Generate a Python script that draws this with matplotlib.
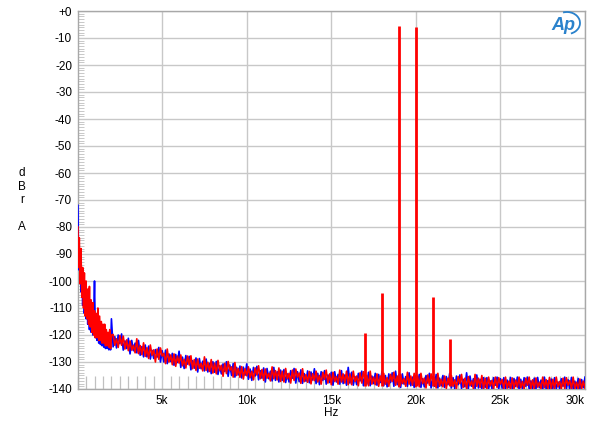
import numpy as np
import matplotlib
matplotlib.use("Agg")
import matplotlib.pyplot as plt
from matplotlib.patches import Arc
from matplotlib.ticker import MultipleLocator

plt.rcParams['font.family'] = ['Liberation Sans', 'DejaVu Sans']

# ---------------- data ----------------
# low-frequency region (Hz), 50 Hz bins
f_low = [20] + list(range(50, 2001, 50))
red_low = [-80, -95, -84, -101, -88, -106, -95, -110, -97, -113,
           -100, -114, -103, -116, -102, -117, -107, -119, -108, -120,
           -111, -121, -112, -121, -110, -122, -113, -122, -115, -123,
           -116, -123, -116, -124, -118, -124, -119, -124.5, -118, -125,
           -120]
blue_low = [-72, -90, -96, -92, -104, -97, -109, -101, -112, -104,
            -114, -106, -116, -108, -118, -110, -119, -112, -120, -114,
            -100, -121, -115, -122, -116, -123, -117, -123.5, -118, -124,
            -119, -124.5, -120, -125, -121, -125, -121, -125.5, -122, -125.5,
            -114]

# high-frequency region (Hz), 100 Hz bins, 2100 .. 30000
f_high = list(range(2100, 30001, 100))
red_high = [
    # 2.1k - 4k
    -119.8, -123.8, -121.4, -124.6, -120.2, -123.8, -120.4, -125.2, -121.8, -125.8,
    -122.2, -125.6, -123.8, -126.6, -121.4, -126.9, -123.9, -127.3, -122.9, -127.9,
    # 4.1k - 6k
    -124.7, -128.7, -123.7, -127.5, -125.5, -130.0, -125.2, -129.0, -124.8, -127.8,
    -126.8, -130.6, -125.2, -130.0, -127.4, -131.0, -127.0, -131.6, -127.8, -130.4,
    # 6.1k - 8k
    -127.4, -131.4, -129.0, -132.2, -127.8, -131.1, -127.7, -132.5, -129.1, -133.1,
    -128.9, -132.3, -130.5, -133.3, -128.1, -133.1, -130.1, -133.5, -129.1, -134.1,
    # 8.1k - 10k
    -130.4, -134.4, -129.4, -133.2, -131.2, -135.3, -130.5, -134.3, -129.8, -133.1,
    -131.8, -135.6, -130.2, -135.0, -132.4, -135.7, -131.7, -136.3, -132.5, -135.1,
    # 10.1k - 12k
    -131.8, -135.8, -133.4, -136.6, -132.2, -134.8, -131.4, -136.2, -132.8, -136.8,
    -132.6, -136.0, -134.2, -137.0, -131.8, -136.2, -133.2, -136.6, -132.2, -137.2,
    # 12.1k - 14k
    -133.4, -137.4, -132.4, -136.2, -134.2, -137.8, -133.0, -136.8, -132.6, -135.6,
    -134.1, -137.9, -132.5, -137.3, -134.7, -137.5, -133.5, -138.1, -134.3, -136.9,
    # 14.1k - 16k
    -133.4, -137.4, -135.0, -138.2, -133.8, -136.4, -133.0, -137.8, -134.4, -138.4,
    -133.8, -137.2, -135.4, -138.2, -133.0, -137.4, -134.4, -137.8, -133.4, -138.4,
    # 16.1k - 18k
    -134.4, -138.4, -133.4, -137.2, -135.2, -138.8, -134.0, -137.8, -133.6, -136.6,
    -135.0, -138.8, -133.4, -138.2, -135.6, -138.4, -134.4, -139.0, -135.2, -137.8,
    # 18.1k - 20k
    -134.2, -138.2, -135.8, -139.0, -134.6, -137.2, -133.8, -138.6, -135.2, -139.2,
    -134.6, -138.0, -136.2, -139.0, -133.8, -138.2, -135.2, -138.6, -134.2, -139.2,
    # 20.1k - 22k
    -135.2, -139.2, -134.2, -138.0, -136.0, -139.6, -134.8, -138.6, -134.4, -137.4,
    -135.8, -139.6, -134.2, -139.0, -136.4, -139.2, -135.2, -139.8, -136.0, -138.6,
    # 22.1k - 24k
    -135.0, -139.0, -136.6, -139.8, -135.4, -138.0, -134.6, -139.4, -136.0, -139.9,
    -135.4, -138.8, -137.0, -139.8, -134.6, -139.0, -136.0, -139.4, -135.0, -139.9,
    # 24.1k - 26k
    -136.0, -139.9, -135.6, -138.8, -136.8, -139.9, -135.6, -139.4, -135.8, -138.2,
    -136.5, -139.9, -135.6, -139.7, -137.1, -139.9, -135.9, -139.9, -136.7, -139.3,
    # 26.1k - 28k
    -135.6, -139.6, -137.2, -139.9, -136.0, -138.6, -135.6, -139.9, -136.6, -139.9,
    -135.9, -139.3, -137.5, -139.9, -135.6, -139.5, -136.5, -139.9, -135.7, -139.9,
    # 28.1k - 30k
    -136.4, -139.9, -135.6, -139.2, -137.2, -139.9, -136.0, -139.8, -135.8, -138.6,
    -136.9, -139.9, -135.6, -139.9, -137.5, -139.9, -136.3, -139.9, -137.1, -139.7,
]
blue_high = [
    # 2.1k - 4k
    -124.4, -120.6, -124.8, -120.0, -123.2, -119.6, -125.6, -122.2, -125.0, -121.2,
    -127.0, -122.0, -125.8, -123.0, -126.6, -122.0, -127.5, -124.3, -128.1, -123.7,
    # 4.1k - 6k
    -128.1, -124.1, -128.9, -125.7, -128.7, -125.4, -128.2, -124.6, -130.0, -125.8,
    -130.0, -125.6, -130.6, -127.0, -129.8, -126.8, -131.2, -127.2, -130.2, -126.0,
    # 6.1k - 8k
    -132.0, -128.2, -132.4, -127.6, -130.8, -127.9, -132.9, -129.5, -132.3, -128.5,
    -133.7, -128.7, -132.5, -129.7, -133.3, -128.9, -133.7, -130.5, -134.3, -129.9,
    # 8.1k - 10k
    -133.8, -129.8, -134.6, -131.4, -134.4, -130.7, -133.5, -129.9, -135.3, -131.1,
    -135.0, -130.6, -135.6, -132.0, -134.8, -131.5, -135.9, -131.9, -134.9, -130.7,
    # 10.1k - 12k
    -136.4, -132.6, -136.8, -132.0, -135.2, -131.6, -136.6, -133.2, -136.0, -132.2,
    -137.4, -132.4, -136.2, -133.4, -137.0, -132.0, -136.8, -133.6, -137.4, -133.0,
    # 12.1k - 14k
    -136.8, -132.8, -137.6, -134.4, -137.4, -133.2, -136.0, -132.4, -137.8, -133.6,
    -137.3, -132.9, -137.9, -134.3, -137.1, -133.3, -137.7, -133.7, -136.7, -132.5,
    # 14.1k - 16k
    -138.0, -134.2, -138.4, -133.6, -136.8, -133.2, -138.2, -134.8, -137.6, -133.8,
    -138.6, -133.6, -137.4, -134.6, -138.2, -133.2, -138.0, -134.8, -138.6, -132.0,
    # 16.1k - 18k
    -137.8, -133.8, -138.6, -135.4, -138.4, -134.2, -137.0, -133.4, -138.8, -134.6,
    -138.2, -133.8, -138.8, -135.2, -138.0, -134.2, -138.6, -134.6, -137.6, -133.4,
    # 18.1k - 20k
    -138.8, -135.0, -139.2, -134.4, -137.6, -134.0, -139.0, -133.4, -138.4, -134.6,
    -139.4, -134.4, -138.2, -135.4, -139.0, -134.0, -138.8, -135.6, -139.4, -135.0,
    # 20.1k - 22k
    -138.6, -134.6, -139.4, -136.2, -139.2, -135.0, -137.8, -134.2, -139.6, -135.4,
    -139.0, -134.6, -139.6, -136.0, -138.8, -135.0, -139.4, -135.4, -138.4, -134.2,
    # 22.1k - 24k
    -139.6, -135.8, -139.9, -135.2, -138.4, -134.8, -139.8, -136.4, -139.2, -134.0,
    -139.9, -135.2, -139.0, -136.2, -139.8, -134.8, -139.6, -136.4, -139.9, -135.8,
    # 24.1k - 26k
    -139.4, -135.8, -139.9, -137.0, -139.9, -135.8, -138.6, -135.6, -139.9, -136.2,
    -139.7, -135.8, -139.9, -136.7, -139.5, -135.7, -139.9, -136.1, -139.1, -135.6,
    # 26.1k - 28k
    -139.9, -136.4, -139.9, -135.8, -139.0, -135.6, -139.9, -137.0, -139.8, -136.0,
    -139.9, -135.7, -139.5, -136.7, -139.9, -135.6, -139.9, -136.9, -139.9, -136.3,
    # 28.1k - 30k
    -139.8, -135.8, -139.9, -137.4, -139.9, -136.2, -139.0, -135.6, -139.9, -136.6,
    -139.9, -135.7, -139.9, -137.1, -139.9, -136.1, -139.9, -136.5, -139.5, -135.6,
]

# tones and intermodulation products (red channel)
peak_f = [17000, 18000, 19000, 20000, 21000, 22000]
peak_db = [-119.3, -104.4, -5.6, -6.0, -106.0, -121.5]

x_ticks = [5000, 10000, 15000, 20000, 25000, 30000]
x_labels = ["5k", "10k", "15k", "20k", "25k", "30k"]
y_ticks = list(range(0, -141, -10))
y_labels = ["+0"] + [str(v) for v in y_ticks[1:]]

# ---------------- figure ----------------
W, H = 600, 433
fig = plt.figure(figsize=(6.0, 4.33), dpi=100)
L, R, T, B = 77.6, 585.0, 11.0, 389.0
ax = fig.add_axes([L / W, 1 - B / H, (R - L) / W, (B - T) / H])

ax.set_xlim(0, 30000)
ax.set_ylim(-140, 0)

blue_f = np.array(f_low + f_high)
blue_v = np.array(blue_low + blue_high)
red_f = np.array(f_low + f_high)
red_v = np.array(red_low + red_high)

ax.plot(blue_f, blue_v, color='#0000ff', lw=1.2, zorder=3)
ax.plot(red_f, red_v, color='#ff0000', lw=1.2, zorder=4)
ax.vlines(peak_f, -139, peak_db, color='#ff0000', lw=2.0, zorder=5)

grid_c = '#c8c8c8'
ax.set_xticks(x_ticks)
ax.set_xticklabels(x_labels)
ax.set_yticks(y_ticks)
ax.set_yticklabels(y_labels)
ax.grid(True, which='major', color=grid_c, lw=1.0, zorder=0)
ax.xaxis.set_minor_locator(MultipleLocator(500))
ax.yaxis.set_minor_locator(MultipleLocator(1))
ax.tick_params(axis='both', which='major', length=0, labelsize=8.5, pad=4,
               labelcolor='black')
ax.tick_params(axis='x', which='minor', direction='in', length=9.7,
               color='#c0c0c0', width=0.9, top=False)
ax.tick_params(axis='y', which='minor', direction='in', length=4,
               color='#c8c8c8', width=0.7, right=False)
for s in ax.spines.values():
    s.set_color('#a8a8a8')
    s.set_linewidth(1.0)

lbls = ax.get_xticklabels()
lbls[-1].set_horizontalalignment('right')
lbls[-1].set_x(30000)

# axis titles
fig.text((L + R) / 2 / W, 1 - 413 / H, "Hz", ha='center', va='center', fontsize=8.5)
for ch, yy in zip(["d", "B", "r", "A"], [173, 186.5, 200, 227]):
    fig.text(22 / W, 1 - yy / H, ch, ha='center', va='center', fontsize=8.5)

# Ap logo
logo_c = '#2a82cc'
fig.text(563 / W, 1 - 25 / H, "Ap", ha='center', va='center', fontsize=13,
         style='italic', weight='bold', color=logo_c)
fig.patches.append(Arc((567 / W, 1 - 23 / H), 26 / W, 22 / H, theta1=-75, theta2=105,
                       transform=fig.transFigure, color=logo_c, lw=1.3))

fig.savefig("out.png", dpi=100)
